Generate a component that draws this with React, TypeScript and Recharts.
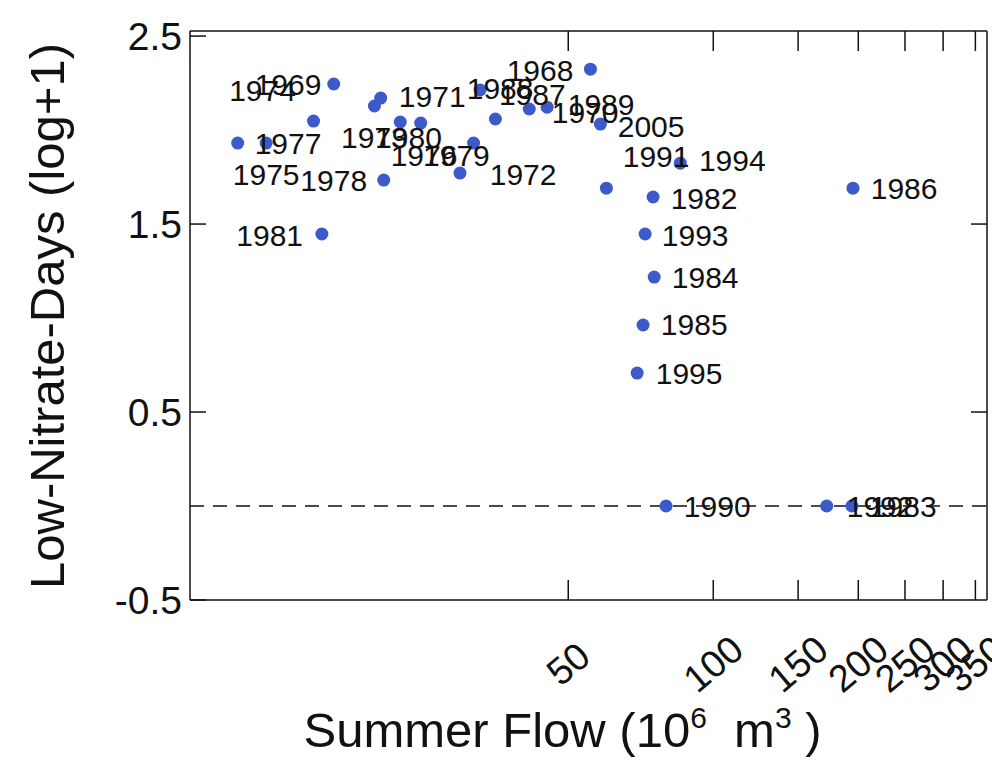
import { ScatterChart, Scatter, XAxis, YAxis, ReferenceLine, Label } from "recharts"

// summer flow (10^6 m3) on a log axis, low-nitrate-days as log(n+1)
const years = [
  1968, 1969, 1970, 1971, 1972, 1973, 1974, 1975, 1976, 1977, 1978, 1979, 1980, 1981,
  1982, 1983, 1984, 1985, 1986, 1987, 1988, 1989, 1990, 1991, 1992, 1993, 1994, 1995, 2005,
]
const summerFlow = [
  55.6, 16.3, 41.5, 20.4, 29.8, 19.8, 14.8, 10.3, 24.7, 11.8, 20.7, 31.8, 22.4, 15.4,
  75.0, 194, 75.4, 71.5, 195, 35.3, 32.8, 45.2, 79.8, 60.0, 172, 72.2, 85.4, 69.5, 58.3,
]
const lowNitrateDays = [
  2.324, 2.245, 2.112, 2.17, 1.771, 2.128, 2.048, 1.931, 2.037, 1.931, 1.734, 1.931, 2.043, 1.447,
  1.644, 0, 1.218, 0.963, 1.691, 2.059, 2.213, 2.122, 0, 1.691, 0, 1.447, 1.824, 0.707, 2.032,
]
// where the year labels sit (same units as the points)
const labelFlow = [
  43.7, 13.1, 54.2, 26.1, 40.3, 19.8, 11.6, 11.8, 25.1, 13.1, 16.3, 29.3, 23.3, 12.0,
  95.7, 248, 96.2, 91.3, 249, 42.1, 36.1, 58.5, 101.9, 76.1, 222, 91.7, 109.5, 89.1, 74.3,
]
const labelDays = [
  2.319, 2.245, 2.096, 2.176, 1.761, 1.963, 2.213, 1.766, 1.867, 1.931, 1.734, 1.867, 1.963, 1.441,
  1.638, 0, 1.218, 0.963, 1.691, 2.191, 2.223, 2.138, 0, 1.862, 0, 1.441, 1.84, 0.707, 2.021,
]

const flowTicks = [50, 100, 150, 200, 250, 300, 350]
const dayTicks = [-0.5, 0.5, 1.5, 2.5]
const rightTicks = [0.5, 1.5]

const points = years.map((year, i) => ({ year, flow: summerFlow[i], days: lowNitrateDays[i] }))
const labels = years.map((year, i) => ({ year, flow: labelFlow[i], days: labelDays[i] }))

const font = "'Liberation Sans', Arial, sans-serif"
const dotColor = "#3c5bc8"
const tickLen = 20

const BottomTick = (props: any) => {
  const { x, y, payload } = props
  return (
    <g>
      <line x1={x} y1={y} x2={x} y2={y - tickLen} stroke="#111" strokeWidth={1.5} />
      <text
        x={x}
        y={y + 64}
        transform={`rotate(-40 ${x} ${y + 64})`}
        textAnchor="middle"
        dominantBaseline="central"
        fontSize={38}
        fontFamily={font}
        fill="#111"
      >
        {payload.value}
      </text>
    </g>
  )
}

const TopTick = (props: any) => {
  const { x, y } = props
  return <line x1={x} y1={y} x2={x} y2={y + tickLen} stroke="#111" strokeWidth={1.5} />
}

const LeftTick = (props: any) => {
  const { x, y, payload } = props
  return (
    <g>
      <line x1={x} y1={y} x2={x + 16} y2={y} stroke="#111" strokeWidth={1.5} />
      <text
        x={x - 8}
        y={y}
        textAnchor="end"
        dominantBaseline="central"
        fontSize={39}
        fontFamily={font}
        fill="#111"
      >
        {payload.value}
      </text>
    </g>
  )
}

const RightTick = (props: any) => {
  const { x, y } = props
  return <line x1={x} y1={y} x2={x - 16} y2={y} stroke="#111" strokeWidth={1.5} />
}

const Dot = (props: any) => {
  const { cx, cy } = props
  return <circle cx={cx} cy={cy} r={6.5} fill={dotColor} />
}

const YearLabel = (props: any) => {
  const { cx, cy, payload } = props
  return (
    <text
      x={cx}
      y={cy}
      textAnchor="middle"
      dominantBaseline="central"
      fontSize={30}
      fontFamily={font}
      fill="#111"
    >
      {payload.year}
    </text>
  )
}

export default function App() {
  return (
    <div style={{ position: "absolute", left: 0, top: 0, background: "#fff" }}>
      <ScatterChart width={992} height={761} margin={{ top: 30, right: 4, bottom: 0, left: 0 }}>
        <XAxis
          dataKey="flow"
          type="number"
          scale="log"
          domain={[8.2, 370]}
          allowDataOverflow
          ticks={flowTicks}
          interval={0}
          tickSize={0}
          tickMargin={0}
          tickLine={false}
          tick={<BottomTick />}
          height={161}
          axisLine={{ stroke: "#111", strokeWidth: 1.5 }}
        >
          <Label
            content={(p: any) => {
              const vb = p.viewBox
              return (
                <text
                  x={vb.x + vb.width / 2 - 26}
                  y={vb.y + 147}
                  textAnchor="middle"
                  fontSize={49}
                  fontFamily={font}
                  fill="#111"
                >
                  <tspan>Summer Flow (10</tspan>
                  <tspan dy={-19} fontSize={30}>6</tspan>
                  <tspan dy={19}>{"\u00a0 m"}</tspan>
                  <tspan dy={-19} fontSize={30}>3</tspan>
                  <tspan dy={19}>{" )"}</tspan>
                </text>
              )
            }}
          />
        </XAxis>
        <XAxis
          xAxisId="top"
          orientation="top"
          dataKey="flow"
          type="number"
          scale="log"
          domain={[8.2, 370]}
          allowDataOverflow
          ticks={flowTicks}
          interval={0}
          tickSize={0}
          tickMargin={0}
          tickLine={false}
          tick={<TopTick />}
          height={1}
          axisLine={{ stroke: "#111", strokeWidth: 1.5 }}
        />
        <YAxis
          dataKey="days"
          type="number"
          domain={[-0.5, 2.527]}
          allowDataOverflow
          ticks={dayTicks}
          interval={0}
          tickSize={0}
          tickMargin={0}
          tickLine={false}
          tick={<LeftTick />}
          width={190}
          axisLine={{ stroke: "#111", strokeWidth: 1.5 }}
        >
          <Label
            content={() => (
              <text
                x={47}
                y={316}
                transform="rotate(-90 47 316)"
                textAnchor="middle"
                dominantBaseline="central"
                fontSize={49}
                fontFamily={font}
                fill="#111"
              >
                Low-Nitrate-Days (log+1)
              </text>
            )}
          />
        </YAxis>
        <YAxis
          yAxisId="right"
          orientation="right"
          dataKey="days"
          type="number"
          domain={[-0.5, 2.527]}
          allowDataOverflow
          ticks={rightTicks}
          interval={0}
          tickSize={0}
          tickMargin={0}
          tickLine={false}
          tick={<RightTick />}
          width={1}
          axisLine={{ stroke: "#111", strokeWidth: 1.5 }}
        />
        <ReferenceLine y={0} stroke="#111" strokeWidth={1.5} strokeDasharray="14 9" />
        <Scatter data={points} shape={<Dot />} isAnimationActive={false} />
        <Scatter data={labels} shape={<YearLabel />} isAnimationActive={false} />
      </ScatterChart>
    </div>
  )
}
